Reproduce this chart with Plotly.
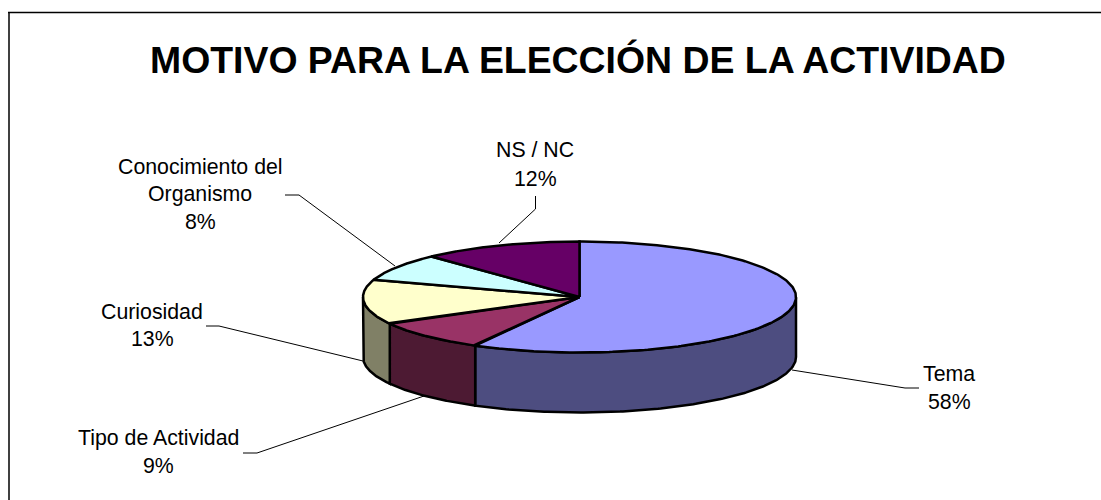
import numpy as np
import plotly.graph_objects as go

TITLE = "MOTIVO PARA LA ELECCIÓN DE LA ACTIVIDAD"
categories = ["Tema", "Tipo de Actividad", "Curiosidad", "Conocimiento del Organismo", "NS / NC"]
values = [58, 9, 13, 8, 12]

top_colors = ["#9999FF", "#993366", "#FFFFCC", "#CCFFFF", "#660066"]
side_colors = ["#4D4D80", "#4D1A33", "#808066", "#668080", "#330033"]

# pie geometry in page pixels
CX, CY, RX, RY, DEPTH = 579.5, 297.0, 216.5, 55.5, 60.0

# label placement: (centre x, [line centre y ...], [text lines ...])
label_layout = [
    (949, [374, 402], ["Tema"]),
    (158, [438, 466], ["Tipo de Actividad"]),
    (152, [312, 339], ["Curiosidad"]),
    (200, [167, 194, 222], ["Conocimiento del", "Organismo"]),
    (535, [150, 179], ["NS / NC"]),
]
leaders = [
    ([792, 905, 919], [370, 388, 388]),
    ([424, 257, 243], [396, 453, 453]),
    ([363, 219, 206], [361, 326, 326]),
    ([395, 299, 285], [266, 195, 195]),
    ([499, 535.5, 535.5], [243, 209, 196]),
]


def pt(angle):
    a = np.radians(angle)
    return CX + RX * np.sin(a), CY - RY * np.cos(a)


fig = go.Figure()


def poly(x, y, fill, width=2.5):
    fig.add_trace(go.Scatter(
        x=x, y=y, mode="lines", fill="toself", fillcolor=fill,
        line=dict(color="#000000", width=width),
        hoverinfo="skip", showlegend=False))


edges = np.concatenate([[0], np.cumsum(values)]) * 360.0 / sum(values)

# side wall: only the front half of the rim (90 to 270 degrees) is visible
for i in range(len(values)):
    a0, a1 = max(edges[i], 90.0), min(edges[i + 1], 270.0)
    if a1 <= a0:
        continue
    arc = np.linspace(a0, a1, 160)
    xs, ys = pt(arc)
    poly(np.r_[xs, xs[::-1], xs[0]],
         np.r_[ys, ys[::-1] + DEPTH, ys[0]],
         side_colors[i])

# top face slices
for i in range(len(values)):
    arc = np.linspace(edges[i], edges[i + 1], 240)
    xs, ys = pt(arc)
    poly(np.r_[CX, xs, CX], np.r_[CY, ys, CY], top_colors[i])

# leader lines
for lx, ly in leaders:
    fig.add_trace(go.Scatter(
        x=lx, y=ly, mode="lines", line=dict(color="#000000", width=1),
        hoverinfo="skip", showlegend=False))

# frame: top and left edges only are inside the picture
fig.add_trace(go.Scatter(x=[9, 9], y=[12, 500], mode="lines",
                         line=dict(color="#404040", width=2),
                         hoverinfo="skip", showlegend=False))
fig.add_trace(go.Scatter(x=[1101, 8], y=[12.5, 12.5], mode="lines",
                         line=dict(color="#000000", width=1.5),
                         hoverinfo="skip", showlegend=False))

annotations = [dict(
    x=577.5, y=60, text=f"<b>{TITLE}</b>", showarrow=False, xanchor="center", yanchor="middle",
    font=dict(family="Liberation Sans", size=37.4, color="#000000"))]
for (lx, line_ys, lines), v in zip(label_layout, values):
    for ly, txt in zip(line_ys, lines + [f"{v}%"]):
        annotations.append(dict(
            x=lx, y=ly, text=txt, showarrow=False, xanchor="center", yanchor="middle",
            font=dict(family="Liberation Sans", size=21.3, color="#000000")))

fig.update_layout(
    width=1101, height=500, margin=dict(l=0, r=0, t=0, b=0),
    paper_bgcolor="#FFFFFF", plot_bgcolor="#FFFFFF", showlegend=False,
    xaxis=dict(range=[0, 1101], visible=False, fixedrange=True),
    yaxis=dict(range=[500, 0], visible=False, fixedrange=True),
    annotations=annotations)

fig.write_html("out.html", config=dict(displayModeBar=False),
               post_script="document.body.style.margin='0';document.body.style.overflow='hidden';")
